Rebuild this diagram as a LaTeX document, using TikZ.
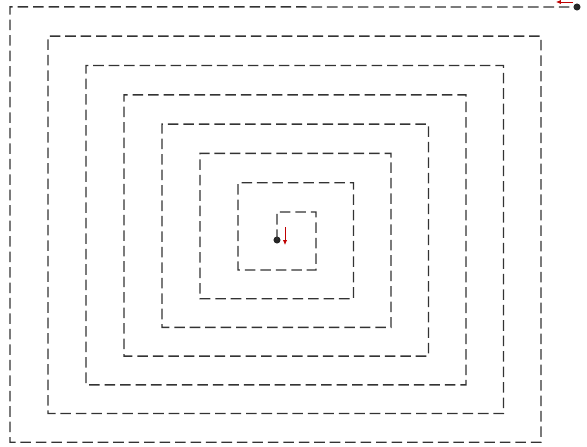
\documentclass[tikz,border=0pt]{standalone}
\usetikzlibrary{arrows.meta}

\begin{document}
\begin{tikzpicture}[
  x=0.5mm, y=-0.5mm,
  spiral/.style={dash pattern=on 15pt off 7pt, line width=2pt, black!80},
  dot/.style={circle, fill=black!85, inner sep=0pt, minimum size=10pt},
  redarr/.style={-{Latex[length=7pt,width=6pt]}, red!75!black, line width=1pt}
]
\useasboundingbox (0,0) rectangle (587,446);
\node[dot] (inner) at (277,240) {};
\node[dot] (outer) at (577,7) {};
% spiral, ring by ring
\draw[spiral] (inner.center) -- (277,212)
  \foreach \i in {0,...,6} {
    -- ({316+37.5*\i},{212-29.3*\i}) -- ({316+37.5*\i},{270+28.7*\i})
    -- ({238-38*\i},{270+28.7*\i}) -- ({238-38*\i},{212-29.3*(\i+1)})
  } -- (outer.center);
\coordinate (innertip) at (285,245);
\coordinate (outertip) at (556,2);
\draw[redarr] (285,227) -- (innertip);
\draw[redarr] (573,2) -- (outertip);
\end{tikzpicture}
\end{document}
